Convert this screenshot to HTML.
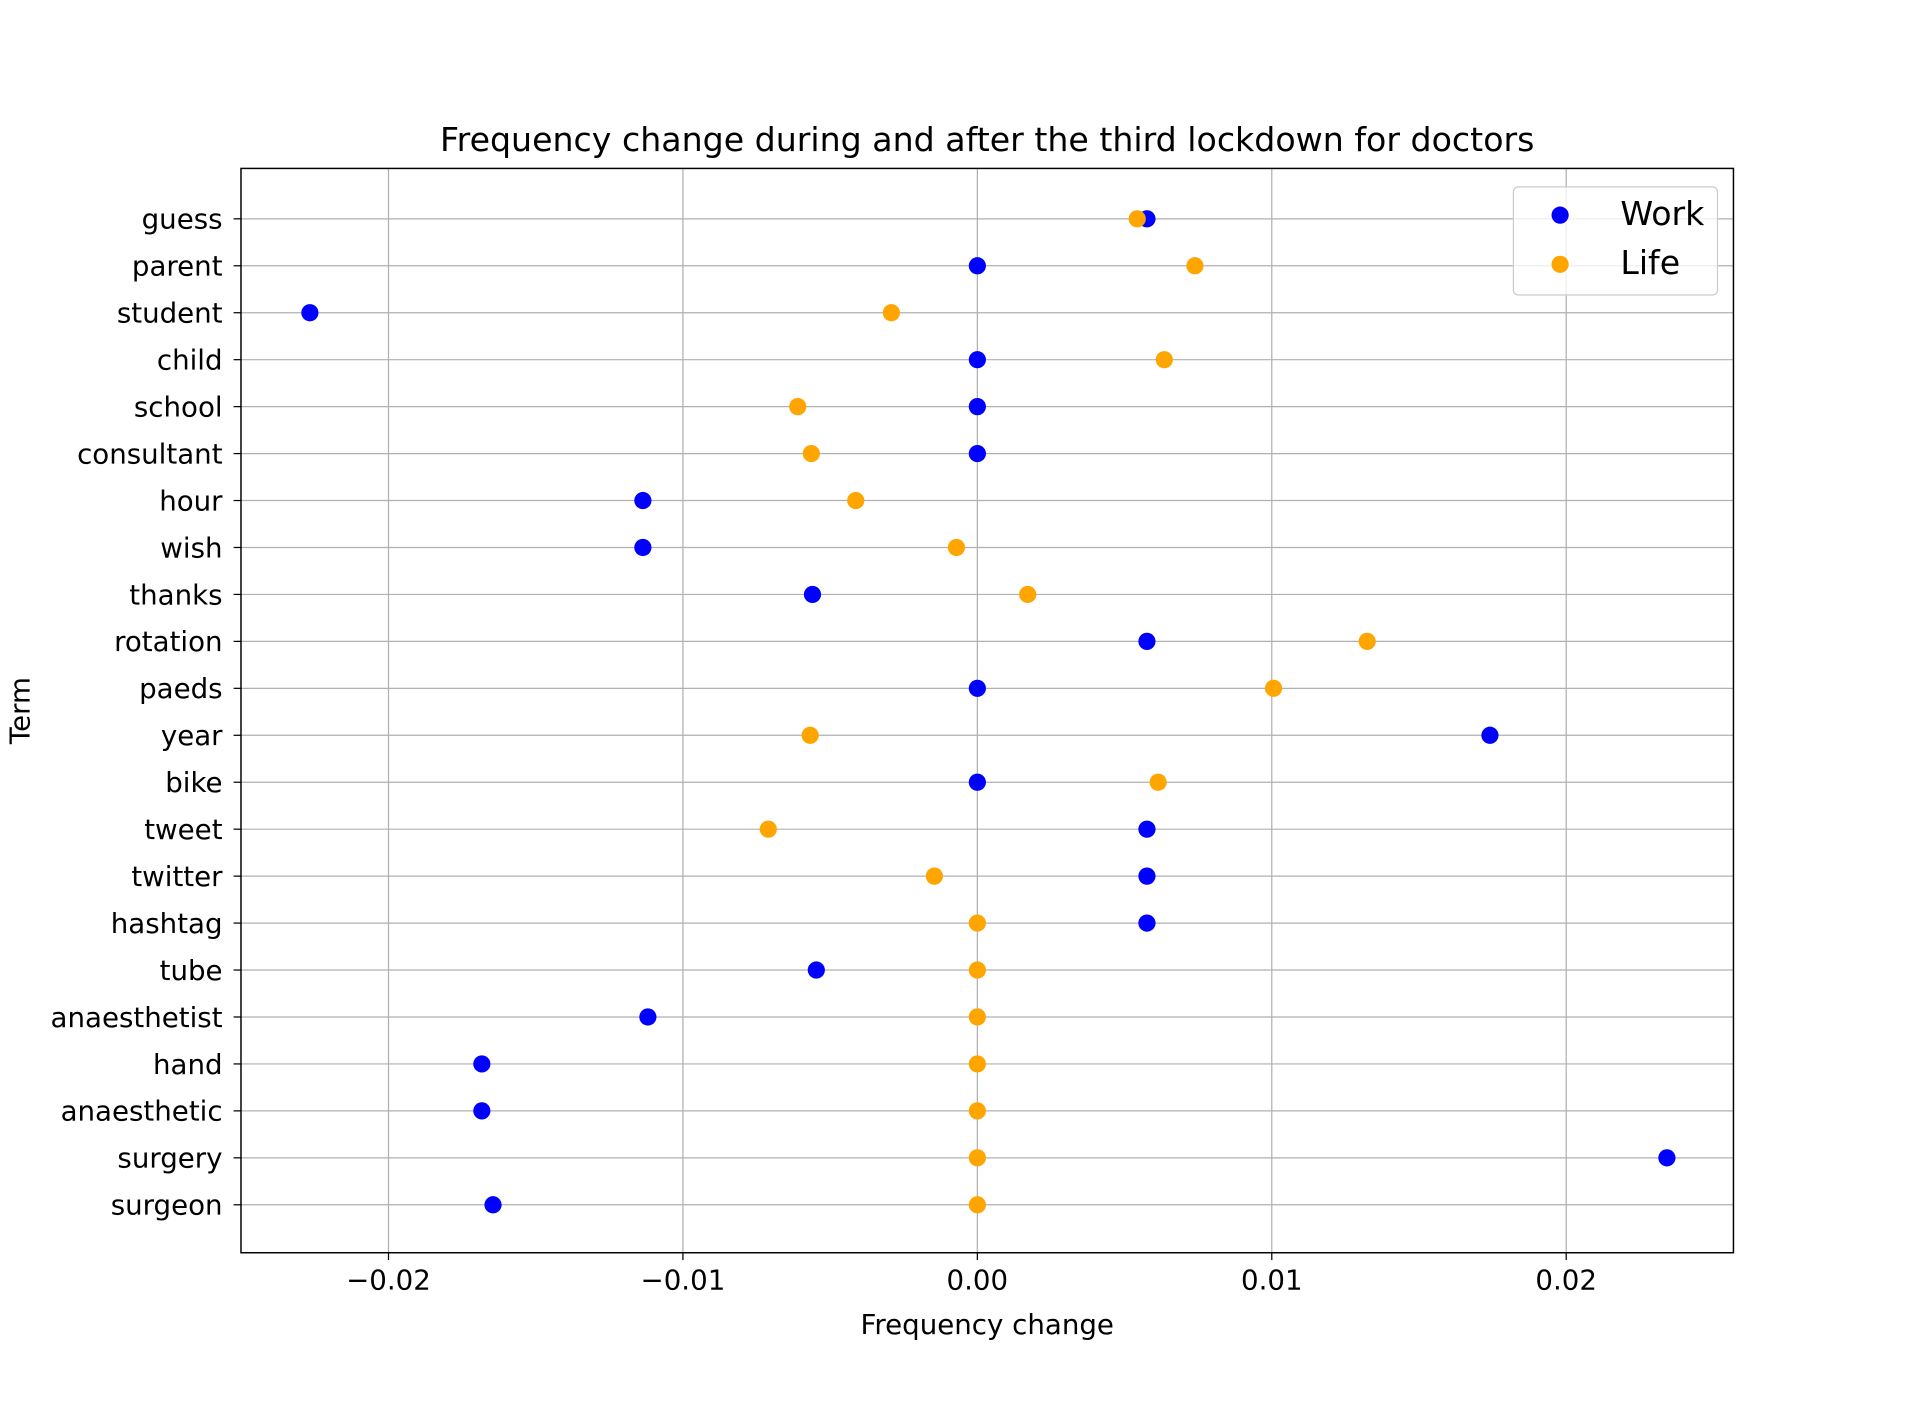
<!DOCTYPE html>
<html><head><meta charset="utf-8"><style>html,body{margin:0;padding:0;background:#fff}svg{display:block}</style></head>
<body>
<svg id="chart" width="1926" height="1408" viewBox="0 0 1566.6 1145.3" xmlns="http://www.w3.org/2000/svg" font-family="'DejaVu Sans', 'Liberation Sans', sans-serif">
<rect width="1570" height="1150" fill="#fff"/>
<g id="grid"></g>
<g id="marks"></g>
<rect x="196" y="137" width="1214" height="882" fill="none" stroke="#000" stroke-width="1.2"/>
<g id="axes"></g>
<text x="803" y="123" text-anchor="middle" font-size="27">Frequency change during and after the third lockdown for doctors</text>
<text x="803" y="1085" text-anchor="middle" font-size="22.5">Frequency change</text>
<text transform="translate(24,578) rotate(-90)" text-anchor="middle" font-size="22.5">Term</text>
<g>
<rect x="1231" y="152" width="166" height="88" rx="4" fill="#fff" fill-opacity="0.8" stroke="#ccc"/>
<circle cx="1269" cy="175" r="7" fill="#0000ff"/>
<text x="1318" y="183" font-size="27">Work</text>
<circle cx="1269" cy="215" r="7" fill="#ffa500"/>
<text x="1318" y="223" font-size="27">Life</text>
</g>
</svg>
<script>
const terms = ["guess","parent","student","child","school","consultant","hour","wish","thanks","rotation","paeds","year","bike","tweet","twitter","hashtag","tube","anaesthetist","hand","anaesthetic","surgery","surgeon"];
const workValues = [0.00576,0,-0.02267,0,0,0,-0.01136,-0.01136,-0.0056,0.00576,0,0.01741,0,0.00576,0.00576,0.00576,-0.00547,-0.01119,-0.01683,-0.01683,0.02342,-0.01645];
const lifeValues = [0.00543,0.00739,-0.00292,0.00635,-0.0061,-0.00564,-0.00413,-0.00071,0.00171,0.01324,0.01006,-0.00568,0.00614,-0.0071,-0.00146,0,0,0,0,0,0,0];
const xTicks = [-0.02,-0.01,0,0.01,0.02];
const xTickLabels = ["\u22120.02","\u22120.01","0.00","0.01","0.02"];

const NS="http://www.w3.org/2000/svg";
const L=196,R=1410,T=137,B=1019;
const xMin=-0.02501,xMax=0.02568;
function xs(v){return L+(v-xMin)/(xMax-xMin)*(R-L);}
function ys(i){return 178+i*(980-178)/(terms.length-1);}
function mk(tag,attrs,parent){const e=document.createElementNS(NS,tag);for(const k in attrs)e.setAttribute(k,attrs[k]);parent.appendChild(e);return e;}
const grid=document.getElementById('grid'),axes=document.getElementById('axes'),marks=document.getElementById('marks');
xTicks.forEach((t,i)=>{
  const x=xs(t);
  const g=mk('line',{x1:x,x2:x,y1:T,y2:B,stroke:'#b0b0b0','stroke-width':1},grid);
  
  
  mk('line',{x1:x,x2:x,y1:B,y2:B+6,stroke:'#000'},axes);
  const tx=mk('text',{x:x,y:B+30,'text-anchor':'middle','font-size':22.5},axes);
  tx.textContent=xTickLabels[i];
  
  
});
terms.forEach((t,i)=>{
  const y=ys(i);
  const g=mk('line',{x1:L,x2:R,y1:y,y2:y,stroke:'#b0b0b0','stroke-width':1},grid);
  
  
  mk('line',{x1:L-6,x2:L,y1:y,y2:y,stroke:'#000'},axes);
  const tx=mk('text',{x:L-15,y:y+8,'text-anchor':'end','font-size':22.5},axes);
  tx.textContent=t;
  
  
});
terms.forEach((t,i)=>{
  const c=mk('circle',{cx:xs(workValues[i]),cy:ys(i),r:7,fill:'#0000ff'},marks);
  
  
});
terms.forEach((t,i)=>{
  const c=mk('circle',{cx:xs(lifeValues[i]),cy:ys(i),r:7,fill:'#ffa500'},marks);
  
  
});
</script>
</body></html>
